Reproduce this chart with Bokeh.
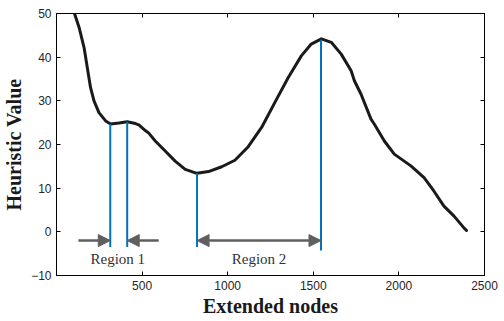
from bokeh.plotting import figure
from bokeh.models import (ColumnDataSource, Arrow, NormalHead, LinearAxis, FixedTicker, Range1d)
from bokeh.core.properties import value
from bokeh.embed import file_html
from bokeh.resources import INLINE

# ---- data ----
x_nodes = [105, 132, 161, 180, 199, 219, 248, 287, 316, 365, 413, 461, 481, 519, 539,
           577, 635, 693, 752, 820, 888, 965, 1042, 1120, 1198, 1275, 1353, 1430, 1488,
           1547, 1605, 1663, 1721, 1740, 1779, 1837, 1856, 1915, 1973, 2070, 2147, 2205,
           2263, 2322, 2380, 2395]
heuristic = [50.0, 46.8, 42.2, 37.6, 33.0, 30.0, 27.3, 25.4, 24.7, 24.9, 25.2, 24.8, 24.5, 23.2, 22.6,
             20.8, 18.5, 16.2, 14.3, 13.4, 13.8, 14.9, 16.4, 19.5, 23.9, 29.6, 35.3, 40.3, 43.0,
             44.2, 43.4, 40.7, 36.9, 34.6, 31.5, 25.8, 24.7, 20.8, 17.8, 15.1, 12.4, 9.3,
             5.9, 3.6, 0.9, 0.3]

marker_x = [314, 413, 821, 1545]
marker_top = [24.7, 25.2, 13.4, 44.0]
marker_bottom = [-3.5, -3.5, -3.5, -4.3]

arrow_start = [128, 597]
arrow_end = [314, 413]
double_start = [821]
double_end = [1545]
arrow_y = -2.0

region_labels = ["Region 1", "Region 2"]
region_label_x = [358, 1183]
region_label_y = [-6.3, -6.3]

x_ticks = [500, 1000, 1500, 2000, 2500]
y_ticks = [-10, 0, 10, 20, 30, 40, 50]

# ---- figure ----
p = figure(width=504, height=321, output_backend="svg", toolbar_location=None,
           x_range=Range1d(0, 2500), y_range=Range1d(-10, 50),
           min_border_left=55, min_border_right=20, min_border_top=13, min_border_bottom=46)
p.grid.visible = False
p.outline_line_color = "black"
p.background_fill_color = "white"
p.border_fill_color = "white"

p.line(x_nodes, heuristic, line_color="#1a1a1a", line_width=3, line_join="round", line_cap="round")

p.segment(x0=marker_x, y0=marker_bottom, x1=marker_x, y1=marker_top,
          line_color="#0072BD", line_width=2)

grey = "#5f5f5f"
src1 = ColumnDataSource(dict(x0=arrow_start, x1=arrow_end,
                             y0=[arrow_y] * len(arrow_start), y1=[arrow_y] * len(arrow_start)))
p.add_layout(Arrow(x_start="x0", y_start="y0", x_end="x1", y_end="y1", source=src1,
                   line_color=grey, line_width=2.5,
                   end=NormalHead(size=12, fill_color=grey, line_color=grey)))
src2 = ColumnDataSource(dict(x0=double_start, x1=double_end,
                             y0=[arrow_y] * len(double_start), y1=[arrow_y] * len(double_start)))
p.add_layout(Arrow(x_start="x0", y_start="y0", x_end="x1", y_end="y1", source=src2,
                   line_color=grey, line_width=2.5,
                   start=NormalHead(size=12, fill_color=grey, line_color=grey),
                   end=NormalHead(size=12, fill_color=grey, line_color=grey)))

p.text(x=region_label_x, y=region_label_y, text=region_labels,
       text_font=value("Liberation Serif"), text_font_size="15px",
       text_color="#333333", text_align="center", text_baseline="middle")

# axes
for ax in (p.xaxis[0], p.yaxis[0]):
    ax.major_tick_in = 4
    ax.major_tick_out = 0
    ax.minor_tick_line_color = None
    ax.axis_line_color = "black"
    ax.major_tick_line_color = "black"
    ax.major_label_text_font = "Liberation Sans"
    ax.major_label_text_font_size = "12px"
    ax.major_label_text_color = "#262626"
    ax.axis_label_text_font = "Liberation Serif"
    ax.axis_label_text_font_style = "bold"
    ax.axis_label_text_font_size = "20px"
    ax.axis_label_text_color = "#1a1a1a"

p.xaxis[0].ticker = FixedTicker(ticks=x_ticks)
p.yaxis[0].ticker = FixedTicker(ticks=y_ticks)
p.xaxis[0].axis_label = "Extended nodes"
p.yaxis[0].axis_label = "Heuristic Value"
p.xaxis[0].major_label_standoff = 5
p.xaxis[0].axis_label_standoff = 2
p.yaxis[0].major_label_standoff = 5
p.yaxis[0].axis_label_standoff = 3

top = LinearAxis(ticker=FixedTicker(ticks=x_ticks), major_tick_in=4, major_tick_out=0,
                 minor_tick_line_color=None, major_label_text_font_size="1px",
                 major_label_text_color=None, major_label_standoff=0, axis_line_color="black")
right = LinearAxis(ticker=FixedTicker(ticks=y_ticks), major_tick_in=4, major_tick_out=0,
                   minor_tick_line_color=None, major_label_text_font_size="1px",
                   major_label_text_color=None, major_label_standoff=0, axis_line_color="black")
p.add_layout(top, "above")
p.add_layout(right, "right")

open("out.html", "w").write(file_html(p, INLINE))
